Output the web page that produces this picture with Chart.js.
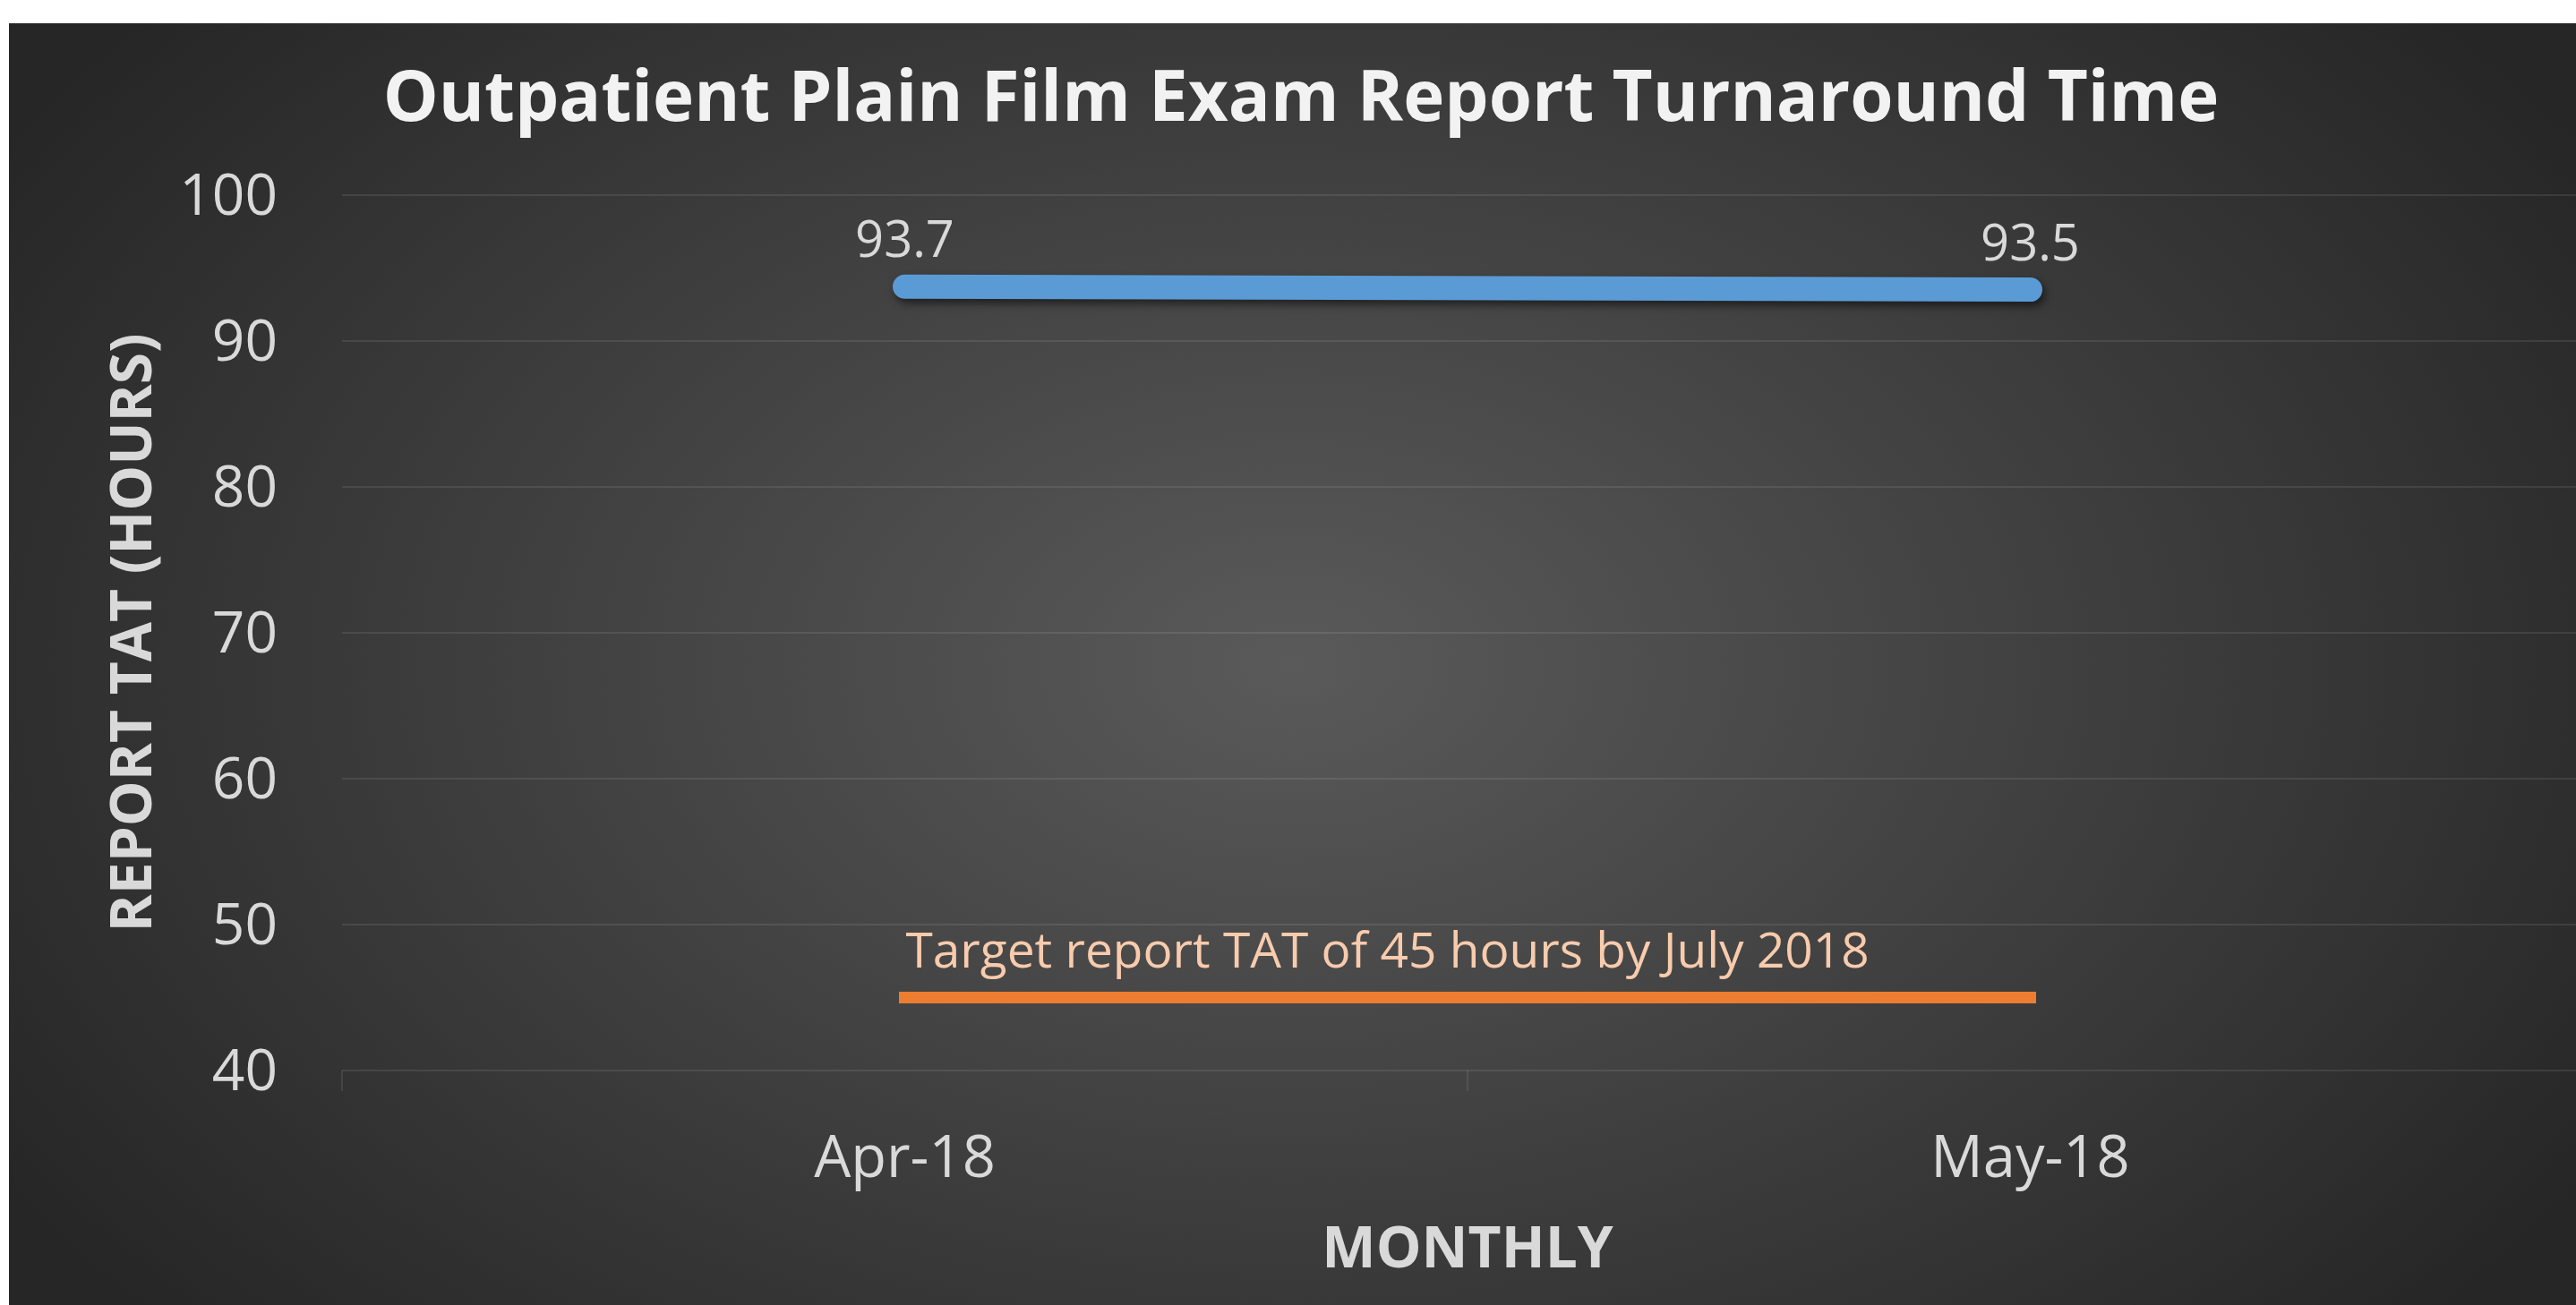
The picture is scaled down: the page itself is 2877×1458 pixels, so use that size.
<!DOCTYPE html>
<html><head><meta charset="utf-8">
<script src="https://cdn.jsdelivr.net/npm/chart.js@4.4.0/dist/chart.umd.min.js"></script>
<style>
html,body{margin:0;padding:0;background:#ffffff;overflow:hidden;width:2877px;height:1458px;}
#wrap{position:absolute;left:10px;top:26px;width:2886px;height:1432px;
  background:radial-gradient(ellipse 1700px 1100px at 1433px 716px,#5a5a5a 0%,#262626 100%);}
</style></head><body>
<div id="wrap"><canvas id="c" width="2886" height="1432"></canvas></div>
<script>
const months = ['Apr-18', 'May-18'];
const reportTat = [93.7, 93.5];
const targetTat = [45, 45];
const yTicks = [40, 50, 60, 70, 80, 90, 100];
const titleText = 'Outpatient Plain Film Exam Report Turnaround Time';
const targetLabel = 'Target report TAT of 45 hours by July 2018';
const yTitle = 'REPORT TAT (HOURS)';
const xTitle = 'MONTHLY';

const gridColor = 'rgba(255,255,255,0.09)';
const textColor = '#D9D9D9';
Chart.defaults.font.family = '"Open Sans", sans-serif';

const labelPlugin = {
  id: 'labelPlugin',
  beforeDatasetDraw(chart, args) {
    if (args.index === 0) {
      const ctx = chart.ctx;
      ctx.save();
      ctx.shadowColor = 'rgba(0,0,0,0.55)';
      ctx.shadowBlur = 10;
      ctx.shadowOffsetX = 3;
      ctx.shadowOffsetY = 5;
    }
  },
  afterDatasetDraw(chart, args) {
    if (args.index === 0) chart.ctx.restore();
  },
  afterDatasetsDraw(chart) {
    const ctx = chart.ctx;
    ctx.save();
    const m0 = chart.getDatasetMeta(0);
    ctx.font = '56px "Open Sans"';
    ctx.fillStyle = textColor;
    ctx.textAlign = 'center';
    ctx.textBaseline = 'middle';
    m0.data.forEach((p, i) => ctx.fillText(reportTat[i].toFixed(1), p.x, p.y - 49));
    const m1 = chart.getDatasetMeta(1);
    ctx.font = '55px "Open Sans"';
    ctx.fillStyle = '#F8CBAD';
    ctx.textAlign = 'left';
    ctx.textBaseline = 'alphabetic';
    ctx.fillText(targetLabel, m1.data[0].x + 1, m1.data[0].y - 33);
    ctx.restore();
  }
};

new Chart(document.getElementById('c'), {
  type: 'line',
  data: {
    labels: months,
    datasets: [
      { label: 'Report TAT', data: reportTat, borderColor: '#5B9BD5', borderWidth: 27,
        borderCapStyle: 'round', pointRadius: 0, tension: 0, fill: false },
      { label: 'Target', data: targetTat, borderColor: '#ED7D31', borderWidth: 13,
        borderCapStyle: 'square', pointRadius: 0, tension: 0, fill: false }
    ]
  },
  options: {
    responsive: false,
    animation: false,
    layout: { padding: 0 },
    plugins: {
      legend: { display: false },
      tooltip: { enabled: false },
      title: { display: true, text: titleText, color: '#F2F2F2',
        font: { size: 78, weight: 'bold' }, padding: { top: 40, bottom: 58 } }
    },
    scales: {
      x: {
        offset: true,
        grid: { offset: true, drawOnChartArea: false, drawTicks: true, tickLength: 23, color: gridColor, lineWidth: 2 },
        border: { display: false },
        ticks: { color: textColor, font: { size: 65 }, padding: 38, maxRotation: 0 },
        title: { display: true, text: xTitle, color: textColor, font: { size: 64, weight: 'bold' }, padding: { top: 0, bottom: 22 } },
        afterFit(s) { s.height = 262; }
      },
      y: {
        min: yTicks[0], max: yTicks[yTicks.length - 1],
        ticks: { stepSize: yTicks[1] - yTicks[0], color: textColor, font: { size: 64 }, padding: 72, labelOffset: 4 },
        grid: { color: gridColor, lineWidth: 2, drawTicks: false },
        border: { display: false },
        title: { display: true, text: yTitle, color: textColor, font: { size: 64, weight: 'bold' }, padding: { top: 102, bottom: 0 } },
        afterFit(s) { s.width = 372; }
      }
    }
  },
  plugins: [labelPlugin]
});
</script>
</body></html>
